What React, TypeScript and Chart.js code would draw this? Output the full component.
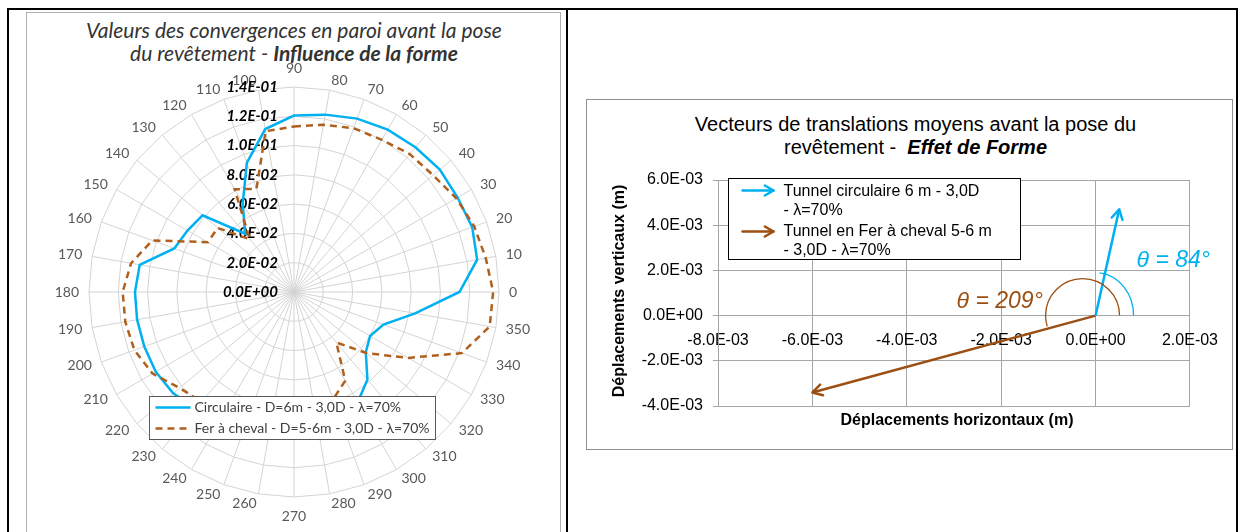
import React, { useEffect, useRef } from "react";
import { Chart, registerables } from "chart.js";

Chart.register(...registerables);

// ---------- Left chart (polar / radar) data ----------
const ANGLES_DEG = [0, 10, 20, 30, 40, 50, 60, 70, 80, 90, 100, 110, 120, 130, 140, 150, 160, 170, 180, 190, 200, 210, 220, 230, 240, 250, 260, 270, 280, 290, 300, 310, 320, 330, 340, 350];
const CIRCULAIRE = [0.113, 0.127, 0.1295, 0.129, 0.13, 0.129, 0.128, 0.126, 0.123, 0.1205, 0.113, 0.094, 0.07, 0.052, 0.0815, 0.084, 0.087, 0.107, 0.1086, 0.1088, 0.1088, 0.109, 0.1077, 0.104, 0.1, 0.097, 0.095, 0.094, 0.093, 0.09, 0.087, 0.078, 0.064, 0.06, 0.065, 0.084];
const FER_A_CHEVAL = [0.136, 0.133, 0.131, 0.128, 0.124, 0.123, 0.12, 0.119, 0.116, 0.113, 0.1115, 0.075, 0.081, 0.047, 0.068, 0.068, 0.103, 0.113, 0.117, 0.117, 0.116, 0.1115, 0.102, 0.098, 0.095, 0.092, 0.09, 0.088, 0.085, 0.078, 0.07, 0.045, 0.065, 0.09, 0.122, 0.1357];
const R_MIN = 0;
const R_MAX = 0.14;
const R_STEP = 0.02;
const POLAR_LEGEND = ["Circulaire - D=6m - 3,0D - λ=70%", "Fer à cheval - D=5-6m - 3,0D - λ=70%"];

// ---------- Right chart (vectors) data ----------
const CIRC_VECTOR_X = [0, 0.0005];
const CIRC_VECTOR_Y = [0, 0.0047];
const FER_VECTOR_X = [0, -0.006];
const FER_VECTOR_Y = [0, -0.0034];
const X_MIN = -0.008;
const X_MAX = 0.002;
const X_STEP = 0.002;
const Y_MIN = -0.004;
const Y_MAX = 0.006;
const Y_STEP = 0.002;
const VECTOR_LEGEND_CIRC = ["Tunnel circulaire 6 m - 3,0D", "- λ=70%"];
const VECTOR_LEGEND_FER = ["Tunnel en Fer à cheval 5-6 m", "- 3,0D - λ=70%"];
const THETA_CIRC = "θ = 84°";
const THETA_FER = "θ = 209°";

const BLUE = "#00B0F0";
const BROWN_DASH = "#B0601E";
const BROWN = "#9C4F12";
const ARIAL = "'Liberation Sans', Arial, sans-serif";
const CAL = "Lato, 'Liberation Sans', sans-serif";

function fmtE(v: number): string {
  const s = Number(v).toExponential(1);
  const [m, e] = s.split("e");
  const n = parseInt(e, 10);
  const sign = n < 0 ? "-" : "+";
  return m + "E" + sign + String(Math.abs(n)).padStart(2, "0");
}

// radar order: Excel places 90 at top and goes clockwise 80, 70, ...
const RADAR_ANGLES = ANGLES_DEG.map((_, i) => ((90 - 10 * i) % 360 + 360) % 360);
const RADAR_IDX = RADAR_ANGLES.map((a) => ANGLES_DEG.indexOf(a));

function drawArrow(ctx: CanvasRenderingContext2D, x0: number, y0: number, x1: number, y1: number, color: string, width: number, head: number, withShaft: boolean) {
  const ang = Math.atan2(y1 - y0, x1 - x0);
  ctx.save();
  ctx.strokeStyle = color;
  ctx.lineWidth = width;
  ctx.lineCap = "round";
  ctx.lineJoin = "round";
  ctx.setLineDash([]);
  if (withShaft) {
    ctx.beginPath();
    ctx.moveTo(x0, y0);
    ctx.lineTo(x1, y1);
    ctx.stroke();
  }
  const a = Math.PI / 6;
  ctx.beginPath();
  ctx.moveTo(x1 - head * Math.cos(ang - a), y1 - head * Math.sin(ang - a));
  ctx.lineTo(x1, y1);
  ctx.lineTo(x1 - head * Math.cos(ang + a), y1 - head * Math.sin(ang + a));
  ctx.stroke();
  ctx.restore();
}

const polarPlugin = {
  id: "polarDecor",
  beforeDatasetsDraw(chart: any) {
    const s = chart.scales.r;
    const ctx = chart.ctx as CanvasRenderingContext2D;
    ctx.save();
    ctx.font = `14px ${CAL}`;
    ctx.fillStyle = "#595959";
    (chart.data.labels as string[]).forEach((lab, i) => {
      const p = s.getPointPosition(i, s.drawingArea + 10);
      const dx = p.x - s.xCenter;
      const dy = p.y - s.yCenter;
      const r = Math.hypot(dx, dy) || 1;
      const c = dx / r;
      const sn = dy / r;
      let x = p.x;
      let y = p.y;
      if (Math.abs(c) < 0.05) {
        ctx.textAlign = "center";
        ctx.textBaseline = sn < 0 ? "bottom" : "top";
        y += sn < 0 ? -2 : 2;
      } else {
        ctx.textAlign = c > 0 ? "left" : "right";
        ctx.textBaseline = "middle";
      }
      ctx.fillText(String(lab), x, y);
    });
    ctx.font = `italic bold 15px ${CAL}`;
    ctx.fillStyle = "#000";
    ctx.textAlign = "right";
    ctx.textBaseline = "middle";
    s.ticks.forEach((t: any) => {
      const d = s.getDistanceFromCenterForValue(t.value);
      ctx.fillText(fmtE(t.value), s.xCenter - 16, s.yCenter - d);
    });
    ctx.restore();
  },
  afterDraw(chart: any) {
    const ctx = chart.ctx as CanvasRenderingContext2D;
    const lx = 123.5, ly = 384.5, lw = 286, lh = 43;
    ctx.save();
    ctx.fillStyle = "#fff";
    ctx.fillRect(lx, ly, lw, lh);
    ctx.strokeStyle = "#595959";
    ctx.lineWidth = 1;
    ctx.strokeRect(lx, ly, lw, lh);
    const rows = [ly + 11, ly + 32];
    const ds = chart.data.datasets;
    [BLUE, BROWN_DASH].forEach((col, i) => {
      ctx.strokeStyle = col;
      ctx.lineWidth = 2.5;
      ctx.setLineDash(i === 0 ? [] : [7, 5]);
      ctx.beginPath();
      ctx.moveTo(lx + 6, rows[i]);
      ctx.lineTo(lx + 41, rows[i]);
      ctx.stroke();
    });
    ctx.setLineDash([]);
    ctx.font = `14px ${CAL}`;
    ctx.fillStyle = "#404040";
    ctx.textAlign = "left";
    ctx.textBaseline = "middle";
    ctx.fillText(ds[0].label, lx + 45, rows[0]);
    ctx.fillText(ds[1].label, lx + 45, rows[1]);
    ctx.restore();
  },
};

function PolarChart() {
  const ref = useRef<HTMLCanvasElement>(null);
  useEffect(() => {
    const chart = new Chart(ref.current as HTMLCanvasElement, {
      type: "radar",
      data: {
        labels: RADAR_ANGLES.map((a) => String(a)),
        datasets: [
          {
            label: POLAR_LEGEND[0],
            data: RADAR_IDX.map((k) => CIRCULAIRE[k]),
            borderColor: BLUE,
            backgroundColor: "transparent",
            borderWidth: 2.5,
            pointRadius: 0,
            fill: false,
            order: 1,
          },
          {
            label: POLAR_LEGEND[1],
            data: RADAR_IDX.map((k) => FER_A_CHEVAL[k]),
            borderColor: BROWN_DASH,
            backgroundColor: "transparent",
            borderWidth: 2.5,
            borderDash: [7, 5],
            pointRadius: 0,
            fill: false,
            order: 0,
          },
        ],
      },
      options: {
        animation: false,
        responsive: false,
        events: [],
        layout: { padding: { left: 63, top: 75, right: 63, bottom: 35 } },
        plugins: { legend: { display: false }, tooltip: { enabled: false } },
        scales: {
          r: {
            min: R_MIN,
            max: R_MAX,
            ticks: { display: false, stepSize: R_STEP },
            grid: { color: "#d4d4d4", lineWidth: 1 },
            angleLines: { color: "#d4d4d4", lineWidth: 1 },
            pointLabels: { display: false },
          },
        },
      } as any,
      plugins: [polarPlugin],
    });
    return () => chart.destroy();
  }, []);
  return <canvas ref={ref} width={536} height={520} style={{ position: "absolute", left: 26, top: 12, width: 536, height: 520 }} />;
}

const vectorPlugin = {
  id: "vectorDecor",
  afterDatasetsDraw(chart: any) {
    const ctx = chart.ctx as CanvasRenderingContext2D;
    const cols = [BLUE, BROWN];
    [0, 1].forEach((i) => {
      const pts = chart.getDatasetMeta(i).data;
      drawArrow(ctx, pts[0].x, pts[0].y, pts[1].x, pts[1].y, cols[i], 2.5, 11, false);
    });
    const ox = chart.scales.x.getPixelForValue(0);
    const oy = chart.scales.y.getPixelForValue(0);
    ctx.save();
    ctx.lineWidth = 1.3;
    ctx.strokeStyle = BLUE;
    ctx.beginPath();
    ctx.ellipse(ox, oy, 38, 43, 0, (-84 * Math.PI) / 180, 0);
    ctx.stroke();
    ctx.strokeStyle = BROWN;
    ctx.beginPath();
    ctx.arc(ox - 13, oy, 37, 0, (-197 * Math.PI) / 180, true);
    ctx.stroke();
    ctx.font = `italic 23px ${ARIAL}`;
    ctx.textBaseline = "middle";
    ctx.textAlign = "left";
    ctx.fillStyle = BLUE;
    ctx.fillText(THETA_CIRC, ox + 41, oy - 55);
    ctx.fillStyle = BROWN;
    ctx.fillText(THETA_FER, ox - 139, oy - 14);
    ctx.restore();
  },
  afterDraw(chart: any) {
    const ctx = chart.ctx as CanvasRenderingContext2D;
    const lx = 142.5, ly = 78.5, lw = 292, lh = 81;
    ctx.save();
    ctx.fillStyle = "#fff";
    ctx.fillRect(lx, ly, lw, lh);
    ctx.strokeStyle = "#000";
    ctx.lineWidth = 1;
    ctx.strokeRect(lx, ly, lw, lh);
    drawArrow(ctx, lx + 14, ly + 12, lx + 45, ly + 12, BLUE, 2.5, 10, true);
    drawArrow(ctx, lx + 14, ly + 53, lx + 45, ly + 53, BROWN, 2.5, 10, true);
    ctx.font = `16px ${ARIAL}`;
    ctx.fillStyle = "#000";
    ctx.textAlign = "left";
    ctx.textBaseline = "middle";
    ctx.fillText(VECTOR_LEGEND_CIRC[0], lx + 55, ly + 13);
    ctx.fillText(VECTOR_LEGEND_CIRC[1], lx + 55, ly + 32);
    ctx.fillText(VECTOR_LEGEND_FER[0], lx + 55, ly + 53);
    ctx.fillText(VECTOR_LEGEND_FER[1], lx + 55, ly + 72);
    ctx.restore();
  },
};

function VectorChart() {
  const ref = useRef<HTMLCanvasElement>(null);
  useEffect(() => {
    const GRID = "#a6a6a6";
    const tickFont = { family: ARIAL, size: 16 };
    const chart = new Chart(ref.current as HTMLCanvasElement, {
      type: "scatter",
      data: {
        datasets: [
          {
            label: VECTOR_LEGEND_CIRC.join(" "),
            data: CIRC_VECTOR_X.map((x, i) => ({ x, y: CIRC_VECTOR_Y[i] })),
            showLine: true,
            borderColor: BLUE,
            borderWidth: 2.5,
            pointRadius: 0,
            pointHoverRadius: 0,
          },
          {
            label: VECTOR_LEGEND_FER.join(" "),
            data: FER_VECTOR_X.map((x, i) => ({ x, y: FER_VECTOR_Y[i] })),
            showLine: true,
            borderColor: BROWN,
            borderWidth: 2.5,
            pointRadius: 0,
            pointHoverRadius: 0,
          },
        ],
      },
      options: {
        animation: false,
        responsive: false,
        events: [],
        layout: { padding: { left: 0, top: 80, right: 38, bottom: 43 } },
        plugins: { legend: { display: false }, tooltip: { enabled: false } },
        scales: {
          x: {
            type: "linear",
            position: { y: 0 },
            min: X_MIN,
            max: X_MAX,
            ticks: { stepSize: X_STEP, callback: (v: any) => fmtE(Number(v)), font: tickFont, color: "#000", padding: 15, maxRotation: 0, autoSkip: false },
            grid: { color: GRID, lineWidth: 1, drawTicks: false },
            border: { color: GRID },
          },
          y: {
            type: "linear",
            position: "left",
            min: Y_MIN,
            max: Y_MAX,
            ticks: { stepSize: Y_STEP, callback: (v: any) => fmtE(Number(v)), font: tickFont, color: "#000", padding: 10 },
            grid: { color: GRID, lineWidth: 1, tickLength: 5 },
            border: { color: GRID },
            afterFit: (s: any) => {
              s.width = 132;
            },
          },
        },
      } as any,
      plugins: [vectorPlugin],
    });
    return () => chart.destroy();
  }, []);
  return <canvas ref={ref} width={647} height={349} style={{ position: "absolute", left: 586, top: 100, width: 647, height: 349 }} />;
}

export default function App() {
  const line = (l: number, t: number, w: number, h: number, c: string) => (
    <div style={{ position: "absolute", left: l, top: t, width: w, height: h, background: c }} />
  );
  return (
    <div style={{ position: "absolute", left: 0, top: 0, width: 1240, height: 532, overflow: "hidden", background: "#fff" }}>
      {/* table frame */}
      {line(7, 8, 1231, 2, "#000")}
      {line(7, 8, 2, 524, "#000")}
      {line(566, 8, 2, 524, "#000")}
      {line(1236, 8, 2, 524, "#000")}

      {/* left chart box */}
      <div style={{ position: "absolute", left: 26, top: 12, width: 535, height: 540, border: "1px solid #b0b0b0", boxSizing: "border-box" }} />
      <div style={{ position: "absolute", left: 26, top: 18, width: 536, textAlign: "center", fontFamily: CAL, fontStyle: "italic", fontSize: 21, lineHeight: "23px", color: "#333" }}>
        Valeurs des convergences en paroi avant la pose
        <br />
        du revêtement - <b>Influence de la forme</b>
      </div>
      <PolarChart />

      {/* right chart box */}
      <div style={{ position: "absolute", left: 586, top: 99, width: 647, height: 351, border: "1px solid #909090", boxSizing: "border-box" }} />
      <div style={{ position: "absolute", left: 592, top: 113, width: 647, textAlign: "center", fontFamily: ARIAL, fontSize: 20, lineHeight: "23px", color: "#000", whiteSpace: "pre" }}>
        {"Vecteurs de translations moyens avant la pose du"}
        <br />
        {"revêtement -  "}
        <b>
          <i>Effet de Forme</i>
        </b>
      </div>
      <VectorChart />
      <div style={{ position: "absolute", left: 489, top: 281, width: 260, height: 20, lineHeight: "20px", textAlign: "center", fontFamily: ARIAL, fontWeight: "bold", fontSize: 16, color: "#000", transform: "rotate(-90deg)", transformOrigin: "50% 50%", whiteSpace: "nowrap" }}>
        Déplacements verticaux (m)
      </div>
      <div style={{ position: "absolute", left: 807, top: 410, width: 300, height: 20, lineHeight: "20px", textAlign: "center", fontFamily: ARIAL, fontWeight: "bold", fontSize: 16, color: "#000", whiteSpace: "nowrap" }}>
        Déplacements horizontaux (m)
      </div>
    </div>
  );
}
